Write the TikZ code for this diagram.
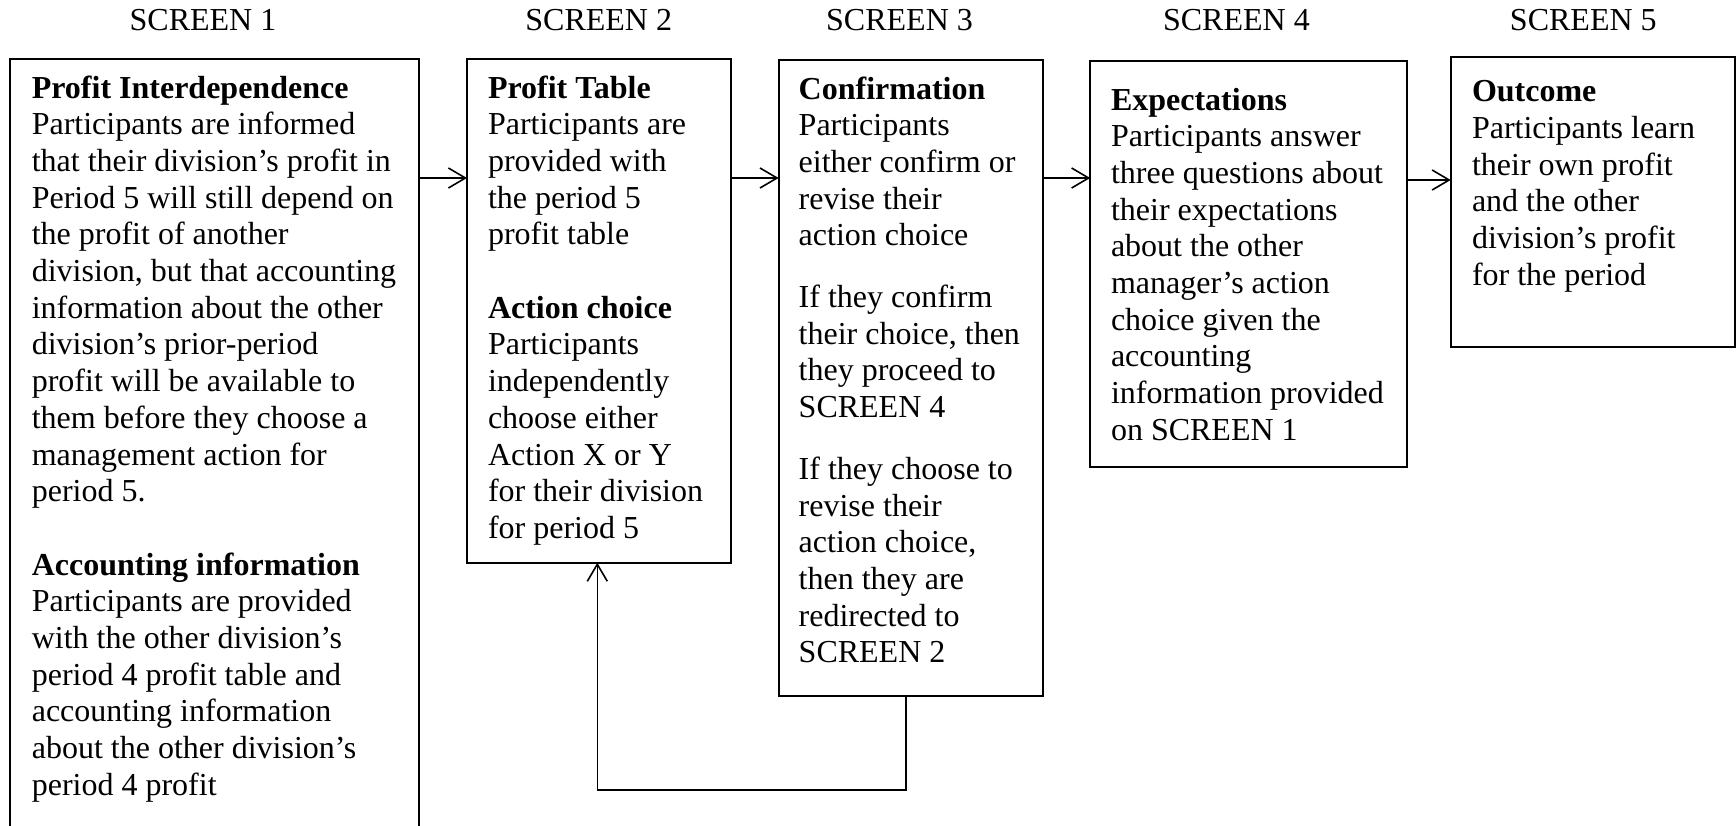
\documentclass[tikz,border=0pt]{standalone}
\usepackage{fontspec}
\setmainfont{Liberation Serif}
\usetikzlibrary{arrows.meta}
\begin{document}
\begin{tikzpicture}[x=1pt,y=1pt,
  every node/.style={font=\fontsize{32}{36.7}\selectfont, inner sep=0pt, outer sep=0pt},
  box/.style={draw, line width=2pt, anchor=north west},
  txt/.style={anchor=base west},
  lab/.style={anchor=base},
  arr/.style={line width=1.6pt, -{Straight Barb[length=17pt,width=20pt]}}]
\useasboundingbox (0,0) rectangle (1736,-825);
\clip (0,0) rectangle (1736,-825);
% screen labels
\node[lab] (s1) at (203,-30) {SCREEN 1};
\node[lab] (s2) at (598.7,-30) {SCREEN 2};
\node[lab] (s3) at (899.5,-30) {SCREEN 3};
\node[lab] (s4) at (1236.4,-30) {SCREEN 4};
\node[lab] (s5) at (1583.3,-30) {SCREEN 5};
% boxes
\node[box, minimum width=409pt, minimum height=775pt] (b1) at (10.3,-59.3) {};
\node[box, minimum width=264pt, minimum height=503.7pt] (b2) at (467,-59) {};
\node[box, minimum width=264.4pt, minimum height=635.7pt] (b3) at (778.6,-60) {};
\node[box, minimum width=316.4pt, minimum height=405.7pt] (b4) at (1090.2,-61) {};
\node[box, minimum width=284.3pt, minimum height=290pt] (b5) at (1450.7,-56.7) {};
% texts
\node[txt] (t1) at (31.8,-98) {\begin{tabular}[t]{@{}l@{}}
\textbf{Profit Interdependence}\\
Participants are informed\\
that their division’s profit in\\
Period 5 will still depend on\\
the profit of another\\
division, but that accounting\\
information about the other\\
division’s prior-period\\
profit will be available to\\
them before they choose a\\
management action for\\
period 5.\\
\\
\textbf{Accounting information}\\
Participants are provided\\
with the other division’s\\
period 4 profit table and\\
accounting information\\
about the other division’s\\
period 4 profit
\end{tabular}};
\node[txt] (t2) at (488,-98) {\begin{tabular}[t]{@{}l@{}}
\textbf{Profit Table}\\
Participants are\\
provided with\\
the period 5\\
profit table\\
\\
\textbf{Action choice}\\
Participants\\
independently\\
choose either\\
Action X or Y\\
for their division\\
for period 5
\end{tabular}};
\node[txt] (t3) at (798.7,-99) {\begin{tabular}[t]{@{}l@{}}
\textbf{Confirmation}\\
Participants\\
either confirm or\\
revise their\\
action choice\\[25pt]
If they confirm\\
their choice, then\\
they proceed to\\
SCREEN 4\\[25pt]
If they choose to\\
revise their\\
action choice,\\
then they are\\
redirected to\\
SCREEN 2
\end{tabular}};
\node[txt] (t4) at (1111,-110) {\begin{tabular}[t]{@{}l@{}}
\textbf{Expectations}\\
Participants answer\\
three questions about\\
their expectations\\
about the other\\
manager’s action\\
choice given the\\
accounting\\
information provided\\
on SCREEN 1
\end{tabular}};
\node[txt] (t5) at (1472,-101.7) {\begin{tabular}[t]{@{}l@{}}
\textbf{Outcome}\\
Participants learn\\
their own profit\\
and the other\\
division’s profit\\
for the period
\end{tabular}};
% connectors
\coordinate (ya) at (0,-178);
\coordinate (yb) at (0,-180);
\coordinate (fb) at (0,-790);
\draw[arr] (b1.east |- ya) -- (b2.west |- ya);
\draw[arr] (b2.east |- ya) -- (b3.west |- ya);
\draw[arr] (b3.east |- ya) -- (b4.west |- ya);
\draw[arr] (b4.east |- yb) -- (b5.west |- yb);
\draw[arr] ([xshift=-5pt]b3.south) |- ([xshift=-1.7pt]b2.south |- fb) -- ([xshift=-1.7pt]b2.south);
\end{tikzpicture}
\end{document}
